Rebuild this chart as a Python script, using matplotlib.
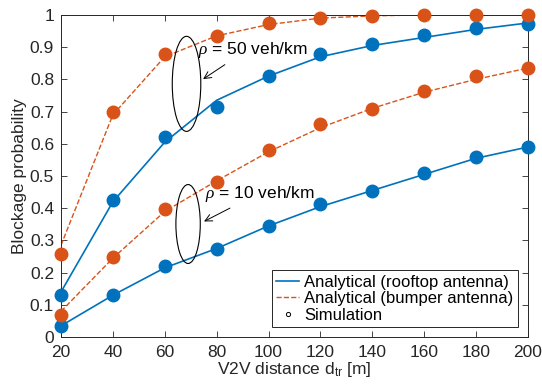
import matplotlib.pyplot as plt
from matplotlib.patches import Ellipse
from matplotlib.lines import Line2D

plt.rcParams['font.family'] = ['Liberation Sans', 'DejaVu Sans']
plt.rcParams['mathtext.fontset'] = 'custom'
plt.rcParams['mathtext.rm'] = 'Liberation Sans'
plt.rcParams['mathtext.it'] = 'Liberation Serif:italic'

d = [20, 40, 60, 80, 100, 120, 140, 160, 180, 200]

# analytical curves
roof50 = [0.14, 0.42, 0.605, 0.735, 0.81, 0.87, 0.905, 0.93, 0.955, 0.975]
bump50 = [0.285, 0.69, 0.87, 0.935, 0.97, 0.99, 0.997, 1.0, 1.0, 1.0]
roof10 = [0.035, 0.13, 0.215, 0.275, 0.345, 0.405, 0.455, 0.505, 0.555, 0.59]
bump10 = [0.08, 0.245, 0.39, 0.485, 0.575, 0.65, 0.71, 0.76, 0.80, 0.835]

# simulation points
roof50_sim = [0.13, 0.425, 0.622, 0.713, 0.81, 0.878, 0.909, 0.939, 0.958, 0.971]
bump50_sim = [0.258, 0.698, 0.879, 0.936, 0.974, 0.99, 0.998, 1.0, 1.0, 1.0]
roof10_sim = [0.034, 0.13, 0.22, 0.273, 0.346, 0.412, 0.453, 0.508, 0.558, 0.59]
bump10_sim = [0.068, 0.249, 0.397, 0.48, 0.581, 0.661, 0.708, 0.765, 0.81, 0.836]

blue = '#0072BD'
orange = '#D95319'
fs = 12.5

fig = plt.figure(figsize=(5.42, 3.92), dpi=100)
ax = fig.add_axes([0.1125, 0.14, 0.8615, 0.822])

ax.plot(d, roof50, '-', color=blue, lw=1.2, zorder=2)
ax.plot(d, roof10, '-', color=blue, lw=1.2, zorder=2)
ax.plot(d, bump50, '--', color=orange, lw=1.0, zorder=2)
ax.plot(d, bump10, '--', color=orange, lw=1.0, zorder=2)

ms = 9
ax.plot(d, roof50_sim, 'o', color=blue, ms=ms, zorder=3, clip_on=False)
ax.plot(d, roof10_sim, 'o', color=blue, ms=ms, zorder=3, clip_on=False)
ax.plot(d, bump50_sim, 'o', color=orange, ms=ms, zorder=3, clip_on=False)
ax.plot(d, bump10_sim, 'o', color=orange, ms=ms, zorder=3, clip_on=False)

# density annotations
ax.add_patch(Ellipse((68.4, 0.786), 11, 0.295, fill=False, ec='black', lw=0.8, zorder=4))
ax.add_patch(Ellipse((69.0, 0.351), 9.4, 0.245, fill=False, ec='black', lw=0.8, zorder=4))
ax.annotate(r'$\rho$ = 50 veh/km', xy=(73.9, 0.796), xytext=(73.0, 0.89),
            fontsize=fs, va='center', ha='left',
            arrowprops=dict(arrowstyle='->', color='black', lw=0.7,
                            relpos=(0.3, 0.0)))
ax.annotate(r'$\rho$ = 10 veh/km', xy=(74.2, 0.355), xytext=(75.5, 0.444),
            fontsize=fs, va='center', ha='left',
            arrowprops=dict(arrowstyle='->', color='black', lw=0.7,
                            relpos=(0.3, 0.0)))

ax.set_xlim(20, 200)
ax.set_ylim(0, 1)
ax.set_xticks(d)
ax.set_yticks([i / 10 for i in range(11)])
ax.set_yticklabels(['0', '0.1', '0.2', '0.3', '0.4', '0.5', '0.6', '0.7', '0.8', '0.9', '1'])
ax.tick_params(direction='in', top=True, right=True, length=4, width=0.6,
               labelsize=fs, colors='#262626')
ax.tick_params(axis='x', pad=6)
ax.tick_params(axis='y', pad=5)
for s in ax.spines.values():
    s.set_linewidth(0.7)
    s.set_color('#262626')

ax.set_xlabel(r'V2V distance d$_{\rm tr}$ [m]', fontsize=fs, color='#262626', labelpad=0)
ax.set_ylabel('Blockage probability', fontsize=fs, color='#262626', labelpad=2)

handles = [
    Line2D([], [], color=blue, lw=1.2),
    Line2D([], [], color=orange, lw=1.0, ls='--'),
    Line2D([], [], ls='none', marker='o', mfc='none', mec='black', ms=3, mew=0.7),
]
labels = ['Analytical (rooftop antenna)', 'Analytical (bumper antenna)', 'Simulation']
leg = ax.legend(handles, labels, loc='lower right', fontsize=12, fancybox=False,
                edgecolor='#262626', framealpha=1, handlelength=1.4, handletextpad=0.3,
                borderpad=0.25, labelspacing=0.1, borderaxespad=0.6)
leg.get_frame().set_linewidth(0.7)

fig.savefig('out.png', dpi=100)
